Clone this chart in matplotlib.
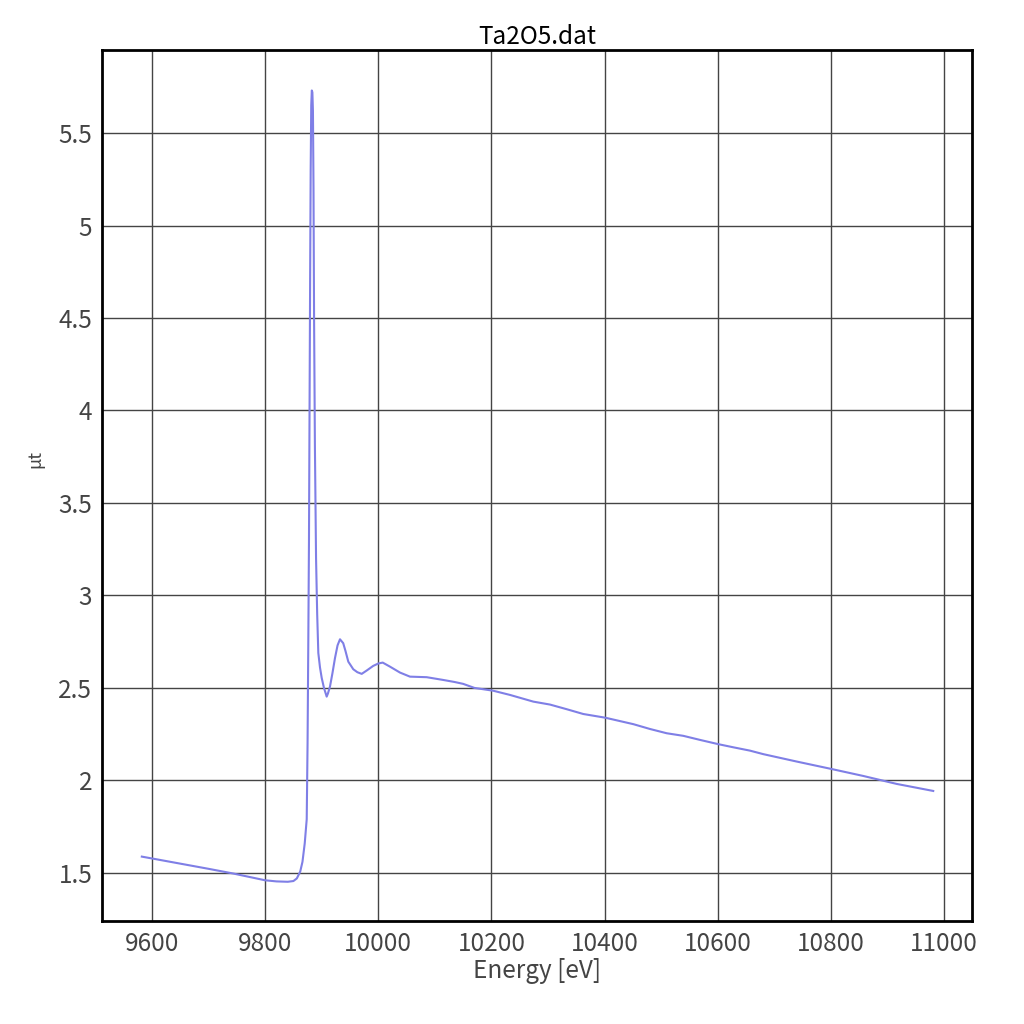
import matplotlib
matplotlib.use("Agg")
import matplotlib.pyplot as plt

plt.rcParams["font.family"] = ["Noto Sans CJK JP", "DejaVu Sans"]

# Ta2O5 absorption spectrum
energy = [9582, 9600, 9650, 9700, 9743, 9780, 9800, 9820, 9840, 9850,
          9856, 9862, 9866, 9870, 9873.5, 9875, 9876.3, 9877.5, 9878.5, 9879.5,
          9880.5, 9881.5, 9882.5, 9883.5, 9884.5, 9885.5, 9886.5, 9888, 9890, 9892,
          9894, 9897, 9900, 9904, 9908.8, 9911, 9914.6, 9919, 9923.5, 9928,
          9932.3, 9938, 9942, 9947, 9955.8, 9963, 9970.7, 9979.5, 9991, 10000,
          10007.8, 10020.7, 10038.4, 10056, 10085.6, 10115, 10135, 10150, 10170, 10203, 10233,
          10274, 10303.6, 10333, 10362.4, 10401.3, 10451, 10480.3, 10509.8, 10539.2, 10568.7,
          10601, 10627.6, 10657, 10680.6, 10739.6, 10800.8, 10857.4, 10916.4, 10981]
mu = [1.588, 1.578, 1.550, 1.522, 1.497, 1.473, 1.460, 1.454, 1.452, 1.456,
      1.470, 1.507, 1.560, 1.660, 1.790, 2.200, 2.750, 3.300, 4.000, 4.700,
      5.300, 5.650, 5.730, 5.720, 5.620, 5.200, 4.500, 3.800, 3.200, 2.900,
      2.689, 2.610, 2.554, 2.500, 2.453, 2.470, 2.507, 2.580, 2.662, 2.730,
      2.763, 2.742, 2.700, 2.642, 2.601, 2.585, 2.576, 2.594, 2.619, 2.632,
      2.637, 2.615, 2.583, 2.561, 2.558, 2.543, 2.532, 2.522, 2.500, 2.485, 2.462,
      2.426, 2.410, 2.385, 2.359, 2.339, 2.304, 2.278, 2.255, 2.241, 2.219,
      2.196, 2.179, 2.161, 2.142, 2.102, 2.062, 2.024, 1.981, 1.943]

xticks = [9600, 9800, 10000, 10200, 10400, 10600, 10800, 11000]
yticks = [1.5, 2, 2.5, 3, 3.5, 4, 4.5, 5, 5.5]
ytick_labels = ["1.5", "2", "2.5", "3", "3.5", "4", "4.5", "5", "5.5"]

fig = plt.figure(figsize=(10.24, 10.24), dpi=100)
ax = fig.add_axes([0.0996, 0.1006, 0.8496, 0.8506])

ax.plot(energy, mu, color="#7f7fe6", linewidth=1.5)

ax.set_xlim(9511.6, 11049.5)
ax.set_ylim(1.24, 5.949)
ax.set_xticks(xticks)
ax.set_yticks(yticks)
ax.set_yticklabels(ytick_labels)
ax.grid(True, color="#444444", linewidth=1.0)
ax.set_axisbelow(True)
ax.tick_params(length=0, labelsize=17.5, labelcolor="#444444", pad=7)

for s in ax.spines.values():
    s.set_linewidth(2)
    s.set_color("black")

ax.set_title("Ta2O5.dat", fontsize=17.5, pad=3)
ax.set_xlabel("Energy [eV]", fontsize=17.5, color="#444444", labelpad=1)
ax.set_ylabel("μt", fontsize=13, color="#444444")
ax.yaxis.set_label_coords(-0.066, 0.53)

fig.savefig("out.png", dpi=100)
